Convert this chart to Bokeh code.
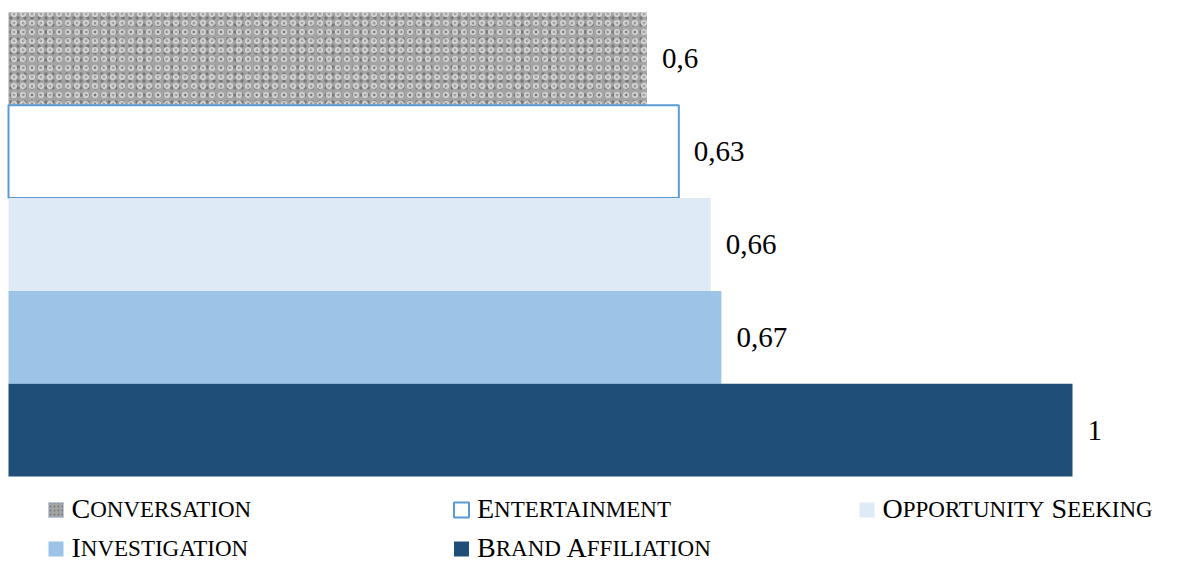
import numpy as np
from bokeh.plotting import figure
from bokeh.models import Range1d
from bokeh.core.properties import value
from bokeh.embed import file_html
from bokeh.resources import INLINE

# ---------------- data ----------------
categories = ["Conversation", "Entertainment", "Opportunity Seeking", "Investigation", "Brand Affiliation"]
values = [0.6, 0.63, 0.66, 0.67, 1.0]
value_labels = ["0,6", "0,63", "0,66", "0,67", "1"]

# ---------------- styles ----------------
styles = {
    "Conversation": dict(fill_color="#a4a4a4", line_color=None, hatch_pattern="dot",
                         hatch_color="#6a6a6a", hatch_scale=7, hatch_weight=3, hatch_alpha=0.75),
    "Entertainment": dict(fill_color="white", line_color="#5b9bd5", line_width=2),
    "Opportunity Seeking": dict(fill_color="#deebf7", line_color=None),
    "Investigation": dict(fill_color="#9dc3e6", line_color=None),
    "Brand Affiliation": dict(fill_color="#1f4e79", line_color=None),
}
FONT = "Liberation Serif"

W, H = 1202, 563
X0_PX, PX_PER_UNIT = 8, 1064
TOP_PX, BAR_PX = 12, 92.8

p = figure(width=W, height=H, output_backend="svg", toolbar_location=None,
           x_range=Range1d(-X0_PX / PX_PER_UNIT, (W - X0_PX) / PX_PER_UNIT),
           y_range=Range1d((H - TOP_PX) / BAR_PX, -TOP_PX / BAR_PX),
           x_axis_location=None, y_axis_location=None, min_border=0)
p.grid.visible = False
p.outline_line_color = None
p.background_fill_color = "white"
p.border_fill_color = "white"
p.extra_x_ranges = {"px": Range1d(0, W)}
p.extra_y_ranges = {"px": Range1d(H, 0)}

ypos = np.arange(len(categories)) + 0.5

for i, cat in enumerate(categories):
    st = styles[cat]
    p.hbar(y=[ypos[i]], left=0, right=[values[i]], height=1, **st)
    if cat == "Conversation":
        p.hbar(y=[ypos[i]], left=0, right=[values[i]], height=1, fill_alpha=0, line_color=None,
               hatch_pattern="ring", hatch_color="#e2e2e2", hatch_scale=9, hatch_weight=1.6, hatch_alpha=0.8)

p.text(x=values, y=ypos, text=value_labels, x_offset=15, text_baseline="middle", text_align="left",
       text_font=value(FONT), text_font_size="29px", text_color="black")

# ---------------- legend (small caps) ----------------
TW = dict(A=722, B=667, C=667, D=722, E=611, F=556, G=722, H=722, I=333, J=389, K=722, L=611, M=889,
          N=722, O=722, P=556, Q=722, R=667, S=556, T=611, U=722, V=722, W=944, X=722, Y=722, Z=611)
TW[" "] = 250
BIG, SMALL = 28, 23
CAP = 0.662


def width(s, size):
    return sum(TW.get(c, 600) for c in s) * size / 1000.0


big_x, big_y, big_t, sm_x, sm_y, sm_t = [], [], [], [], [], []
MK = 15
for i, cat in enumerate(categories):
    col, row = i % 3, i // 3
    mx = 48 + col * 405.5
    base = 517 + row * 39
    mstyle = dict(styles[cat])
    if cat == "Conversation":
        mstyle.update(line_color="#b9c9df", line_width=1, hatch_scale=4, hatch_weight=1.5)
    p.quad(left=[mx], right=[mx + MK], top=[base - MK], bottom=[base],
           x_range_name="px", y_range_name="px", **mstyle)
    x = mx + MK + 8
    for k, word in enumerate(cat.split(" ")):
        if k > 0:
            x += width(" ", SMALL)
        big_x.append(x); big_y.append(base - CAP * BIG / 2); big_t.append(word[0])
        x += width(word[0], BIG)
        rest = word[1:].upper()
        sm_x.append(x); sm_y.append(base - CAP * SMALL / 2); sm_t.append(rest)
        x += width(rest, SMALL)

p.text(x=big_x, y=big_y, text=big_t, x_range_name="px", y_range_name="px",
       text_font=value(FONT), text_font_size=f"{BIG}px", text_baseline="middle", text_color="black")
p.text(x=sm_x, y=sm_y, text=sm_t, x_range_name="px", y_range_name="px",
       text_font=value(FONT), text_font_size=f"{SMALL}px", text_baseline="middle", text_color="black")

open("out.html", "w").write(file_html(p, INLINE))
